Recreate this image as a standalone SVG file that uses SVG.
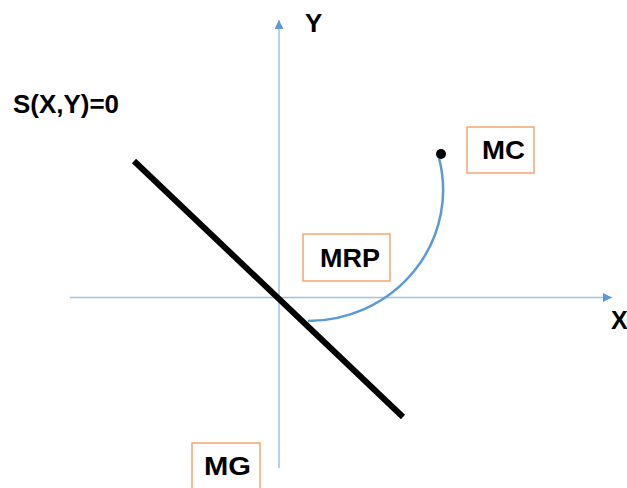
<svg xmlns="http://www.w3.org/2000/svg" width="627" height="488" viewBox="0 0 627 488">
<style>
.axis{stroke:#9DC3E6;stroke-width:1.5;fill:none}
.lbl{font-family:"Liberation Sans",Arial,sans-serif;font-weight:bold;fill:#000}
.box{fill:none;stroke:#F4A672;stroke-width:1.5}
</style>
<defs>
<marker id="ah" viewBox="0 0 10 10" refX="10" refY="5" markerWidth="9" markerHeight="9" markerUnits="userSpaceOnUse" orient="auto">
<path d="M0,0 L10,5 L0,10 z" fill="#5B9BD5"/>
</marker>
</defs>
<rect width="627" height="488" fill="#fff"/>
<g id="connectors">
<line class="axis" x1="279" y1="468" x2="279" y2="20" marker-end="url(#ah)"/>
<line class="axis" x1="70" y1="297.5" x2="612" y2="297.5" marker-end="url(#ah)"/>
<path d="M439,158 A135,131 0 0 1 308,321" fill="none" stroke="#5B9BD5" stroke-width="2.5"/>
<line x1="134" y1="161" x2="403" y2="417" stroke="#000" stroke-width="6"/>
<circle cx="441" cy="154" r="5" fill="#000"/>
</g>
<g id="label-Y"><text class="lbl" x="305" y="32" font-size="26">Y</text></g>
<g id="label-X"><text class="lbl" x="611" y="329" font-size="25">X</text></g>
<g id="label-S"><text class="lbl" x="13" y="113" font-size="25" textLength="106" lengthAdjust="spacingAndGlyphs">S(X,Y)=0</text></g>
<g id="MC">
<rect class="box" x="467" y="127" width="67" height="46"/>
<text class="lbl" x="482" y="159" font-size="25" textLength="43" lengthAdjust="spacingAndGlyphs">MC</text>
</g>
<g id="MRP">
<rect class="box" x="303" y="234" width="87" height="47"/>
<text class="lbl" x="320" y="267" font-size="26" textLength="60" lengthAdjust="spacingAndGlyphs">MRP</text>
</g>
<g id="MG">
<rect class="box" x="192" y="443" width="68" height="60"/>
<text class="lbl" x="204" y="475" font-size="26" textLength="47" lengthAdjust="spacingAndGlyphs">MG</text>
</g>
</svg>
